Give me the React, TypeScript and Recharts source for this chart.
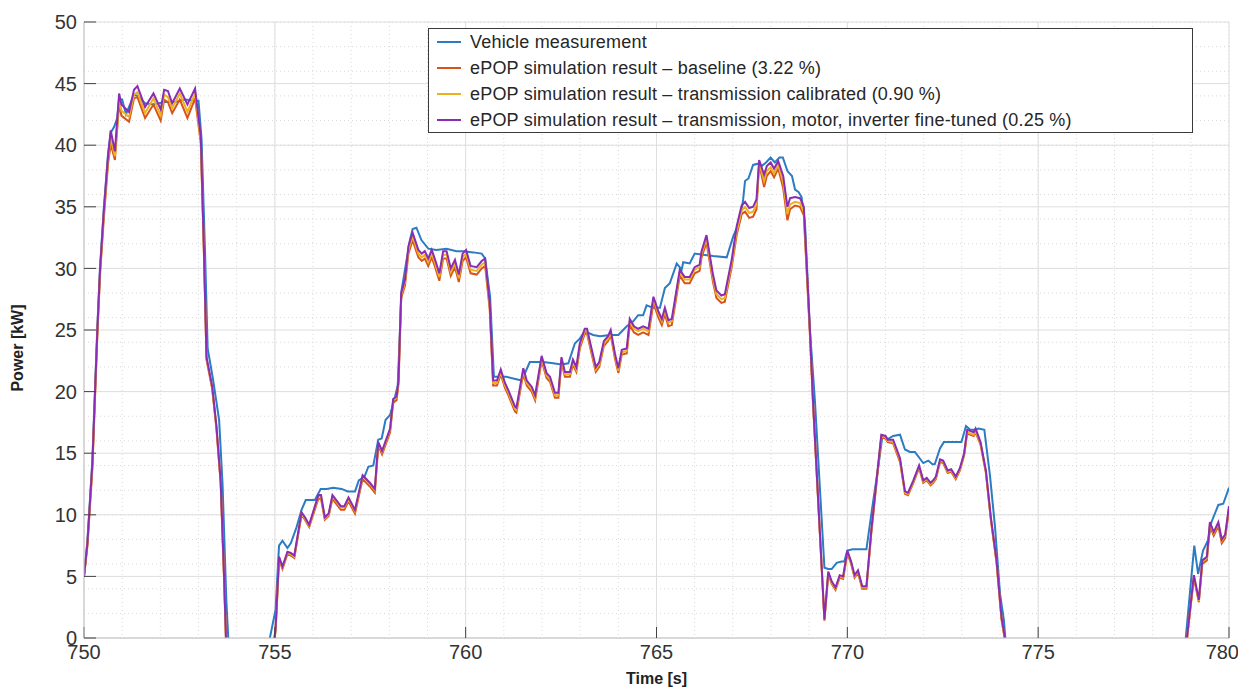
import React from 'react'
import { CartesianGrid, Legend, Line, LineChart, XAxis, YAxis } from 'recharts'

// measurement (own time base)
const measTime = [
  750.0, 750.09, 750.22, 750.35, 750.42, 750.52, 750.63, 750.7, 750.79, 750.87,
  750.92, 751.0, 751.1, 751.31, 751.4, 751.6, 751.82, 752.1, 752.4, 752.65,
  752.9, 753.0, 753.08, 753.17, 753.24, 753.38, 753.54, 753.63, 753.73, 753.78,
  753.85, 754.5, 754.8, 754.87, 755.02, 755.11, 755.2, 755.33, 755.42, 755.57,
  755.7, 755.81, 756.05, 756.2, 756.36, 756.53, 756.75, 756.91, 757.1, 757.2,
  757.35, 757.45, 757.58, 757.71, 757.8, 757.9, 758.02, 758.15, 758.22, 758.32,
  758.41, 758.54, 758.61, 758.71, 758.84, 759.02, 759.23, 759.5, 759.76, 759.94,
  760.2, 760.42, 760.51, 760.64, 760.74, 760.9, 761.07, 761.33, 761.47, 761.68,
  761.81, 762.03, 762.29, 762.51, 762.69, 762.86, 762.99, 763.12, 763.34, 763.52,
  763.78, 764.0, 764.22, 764.39, 764.52, 764.65, 764.74, 764.91, 765.09, 765.22,
  765.35, 765.53, 765.66, 765.7, 765.87, 766.0, 766.22, 766.48, 766.84, 767.01,
  767.19, 767.27, 767.32, 767.41, 767.53, 767.66, 767.75, 767.87, 767.99, 768.1,
  768.22, 768.31, 768.43, 768.55, 768.63, 768.72, 768.8, 768.89, 769.02, 769.15,
  769.4, 769.5, 769.59, 769.72, 769.85, 769.92, 770.0, 770.14, 770.32, 770.5,
  770.63, 770.81, 770.92, 771.04, 771.2, 771.38, 771.51, 771.64, 771.77, 771.99,
  772.12, 772.23, 772.29, 772.43, 772.53, 772.77, 772.99, 773.11, 773.22, 773.35,
  773.44, 773.59, 773.74, 773.87, 774.0, 774.1, 774.14, 774.25, 778.7, 778.87,
  779.09, 779.19, 779.32, 779.46, 779.54, 779.72, 779.85, 780.0,
]
const vehicle = [
  5.0, 7.9, 14.5, 25.3, 30.1, 34.9, 39.3, 41.0, 41.5, 42.2,
  43.7, 43.7, 42.5, 44.1, 44.0, 43.4, 43.3, 43.5, 43.5, 43.7,
  43.6, 43.6, 40.5, 31.5, 23.5, 21.0, 17.7, 12.5, 3.0, 0.0,
  -6, -6, -1.2, 0.0, 2.3, 7.5, 7.9, 7.3, 7.7, 9.0,
  10.4, 11.2, 11.2, 12.1, 12.1, 12.2, 12.1, 11.9, 11.9, 12.8,
  13.1, 13.9, 14.0, 16.1, 16.2, 17.7, 18.1, 19.6, 20.5, 28.2,
  29.9, 32.3, 33.2, 33.3, 32.3, 31.6, 31.5, 31.6, 31.4, 31.4,
  31.3, 31.2, 30.8, 27.7, 21.2, 21.2, 21.2, 21.0, 20.9, 22.4,
  22.4, 22.4, 22.3, 22.2, 22.3, 23.9, 24.3, 24.9, 24.6, 24.5,
  24.6, 24.6, 25.3, 25.7, 26.2, 26.2, 27.0, 26.8, 26.8, 28.4,
  28.8, 30.4, 29.9, 30.5, 30.4, 31.2, 31.1, 31.0, 30.9, 32.6,
  33.9, 35.6, 37.1, 37.3, 38.4, 38.5, 38.3, 38.6, 39.0, 38.6,
  39.0, 39.0, 37.9, 37.5, 36.4, 36.2, 35.8, 33.7, 25.0, 19.3,
  5.7, 5.6, 5.6, 6.1, 6.2, 6.2, 7.1, 7.2, 7.2, 7.2,
  10.1, 13.9, 16.4, 16.1, 16.4, 16.5, 15.3, 15.1, 15.1, 14.2,
  14.4, 14.1, 14.1, 15.4, 15.9, 15.9, 15.9, 17.2, 16.9, 16.9,
  17.0, 16.9, 13.1, 9.0, 3.6, 1.5, 0.0, -6, -6, 0.1,
  7.5, 5.2, 7.1, 8.0, 9.4, 10.8, 10.9, 12.2,
]

// simulation runs (shared time base)
const simTime = [
  750.0, 750.09, 750.22, 750.35, 750.42, 750.52, 750.63, 750.7, 750.81, 750.92,
  750.98, 751.18, 751.31, 751.4, 751.6, 751.82, 752.01, 752.1, 752.2, 752.31,
  752.51, 752.71, 752.91, 753.06, 753.14, 753.21, 753.36, 753.47, 753.58, 753.67,
  753.72, 753.8, 754.5, 754.95, 755.02, 755.11, 755.2, 755.33, 755.42, 755.51,
  755.7, 755.79, 755.9, 756.14, 756.21, 756.31, 756.41, 756.51, 756.73, 756.82,
  756.93, 757.1, 757.3, 757.49, 757.62, 757.71, 757.81, 758.02, 758.1, 758.19,
  758.24, 758.31, 758.41, 758.5, 758.61, 758.76, 758.85, 758.93, 759.02, 759.11,
  759.19, 759.31, 759.41, 759.5, 759.61, 759.72, 759.82, 759.92, 760.01, 760.13,
  760.29, 760.42, 760.51, 760.63, 760.72, 760.82, 760.92, 761.03, 761.12, 761.29,
  761.33, 761.51, 761.6, 761.73, 761.82, 761.99, 762.12, 762.21, 762.34, 762.43,
  762.51, 762.6, 762.73, 762.81, 762.9, 762.99, 763.12, 763.18, 763.29, 763.41,
  763.5, 763.62, 763.73, 763.8, 763.91, 764.0, 764.09, 764.22, 764.3, 764.41,
  764.52, 764.65, 764.79, 764.92, 765.05, 765.14, 765.22, 765.31, 765.4, 765.48,
  765.61, 765.74, 765.87, 766.0, 766.13, 766.18, 766.31, 766.48, 766.57, 766.7,
  766.79, 766.97, 767.1, 767.23, 767.32, 767.43, 767.53, 767.62, 767.69, 767.82,
  767.89, 767.99, 768.08, 768.19, 768.32, 768.43, 768.5, 768.63, 768.76, 768.86,
  769.02, 769.1, 769.4, 769.5, 769.59, 769.69, 769.8, 769.89, 770.0, 770.1,
  770.19, 770.28, 770.39, 770.5, 770.63, 770.89, 771.0, 771.06, 771.2, 771.38,
  771.51, 771.59, 771.73, 771.88, 771.99, 772.08, 772.18, 772.25, 772.32, 772.43,
  772.51, 772.63, 772.72, 772.84, 772.95, 773.06, 773.14, 773.31, 773.36, 773.49,
  773.63, 773.76, 773.91, 774.04, 774.13, 774.25, 778.7, 778.89, 778.95, 779.08,
  779.21, 779.3, 779.42, 779.5, 779.6, 779.72, 779.81, 779.9, 780.0,
]
const baseline = [
  5.0, 7.5, 13.8, 24.6, 29.5, 34.1, 38.5, 40.1, 38.8, 43.4,
  42.4, 41.9, 43.8, 43.9, 42.2, 43.3, 42.0, 43.7, 43.5, 42.6,
  43.7, 42.2, 43.8, 40.2, 31.5, 22.6, 20.2, 17.0, 12.6, 4.8,
  -0.2, -6, -6, -1.2, 0.6, 6.4, 5.6, 6.8, 6.7, 6.5,
  10.0, 9.6, 9.0, 11.3, 11.3, 9.6, 9.9, 11.3, 10.4, 10.4,
  11.1, 10.1, 12.9, 12.3, 11.8, 15.6, 14.9, 16.7, 19.1, 19.3,
  20.6, 27.6, 28.6, 31.2, 32.3, 30.9, 30.6, 30.8, 30.2, 30.9,
  30.2, 29.0, 30.8, 30.8, 29.4, 30.1, 28.9, 30.6, 30.9, 29.6,
  29.5, 30.0, 30.2, 26.7, 20.5, 20.5, 21.4, 20.3, 19.7, 18.4,
  18.3, 21.5, 20.5, 20.0, 19.3, 22.5, 21.1, 20.8, 19.5, 19.5,
  22.4, 21.2, 21.2, 22.2, 21.6, 23.5, 24.7, 24.7, 23.2, 21.6,
  22.0, 23.7, 24.1, 24.6, 22.7, 21.5, 23.0, 23.1, 25.4, 24.8,
  24.6, 24.8, 24.6, 27.2, 26.0, 25.4, 26.3, 25.3, 25.4, 26.9,
  29.4, 28.8, 28.8, 29.6, 29.8, 30.9, 32.1, 28.9, 27.6, 27.2,
  27.3, 30.1, 32.7, 34.4, 34.6, 34.1, 34.2, 34.8, 38.5, 36.6,
  37.5, 37.9, 37.4, 38.1, 36.5, 33.9, 34.8, 35.1, 35.0, 34.3,
  24.6, 19.1, 1.4, 5.2, 4.4, 3.9, 4.9, 4.8, 6.9, 6.0,
  4.9, 5.3, 4.0, 4.0, 8.6, 16.3, 16.2, 15.9, 15.8, 14.3,
  11.7, 11.6, 12.6, 13.8, 12.6, 12.8, 12.4, 12.6, 12.9, 14.3,
  14.2, 13.4, 13.5, 12.9, 13.6, 14.8, 16.6, 16.4, 16.7, 15.7,
  13.4, 9.6, 6.1, 1.5, -0.2, -6, -6, -0.4, 1.3, 4.9,
  2.9, 6.0, 6.3, 9.1, 8.3, 9.1, 7.7, 8.1, 10.4,
]
const transCal = [
  5.0, 7.6, 14.0, 24.8, 29.7, 34.4, 38.8, 40.6, 39.1, 43.8,
  42.8, 42.3, 44.1, 44.3, 42.6, 43.8, 42.4, 44.1, 43.9, 43.0,
  44.2, 42.7, 44.2, 40.4, 31.6, 22.7, 20.3, 17.1, 12.7, 4.9,
  -0.1, -6, -6, -1.1, 0.7, 6.5, 5.7, 6.9, 6.8, 6.6,
  10.1, 9.7, 9.1, 11.5, 11.5, 9.7, 10.0, 11.5, 10.6, 10.6,
  11.3, 10.3, 13.1, 12.5, 12.0, 15.8, 15.1, 16.9, 19.3, 19.5,
  20.8, 27.8, 28.9, 31.5, 32.6, 31.2, 30.9, 31.1, 30.5, 31.2,
  30.5, 29.3, 31.1, 31.1, 29.7, 30.4, 29.2, 30.9, 31.2, 29.9,
  29.8, 30.3, 30.5, 26.9, 20.7, 20.7, 21.6, 20.5, 19.9, 18.6,
  18.5, 21.7, 20.7, 20.2, 19.5, 22.7, 21.3, 21.0, 19.7, 19.7,
  22.6, 21.4, 21.4, 22.4, 21.8, 23.7, 24.9, 24.9, 23.4, 21.8,
  22.2, 23.9, 24.3, 24.8, 22.9, 21.7, 23.2, 23.3, 25.7, 25.1,
  24.9, 25.1, 24.9, 27.5, 26.3, 25.7, 26.6, 25.6, 25.7, 27.2,
  29.7, 29.1, 29.1, 29.9, 30.1, 31.2, 32.4, 29.2, 27.9, 27.5,
  27.6, 30.4, 33.0, 34.7, 35.0, 34.5, 34.6, 35.2, 38.6, 37.1,
  37.9, 38.2, 37.7, 38.4, 37.0, 34.4, 35.2, 35.4, 35.3, 34.6,
  24.8, 19.2, 1.5, 5.3, 4.5, 4.0, 5.0, 4.9, 7.0, 6.1,
  5.0, 5.4, 4.1, 4.1, 8.7, 16.4, 16.3, 16.0, 15.9, 14.5,
  11.8, 11.7, 12.7, 13.9, 12.7, 12.9, 12.5, 12.7, 13.0, 14.4,
  14.3, 13.5, 13.6, 13.0, 13.7, 14.9, 16.7, 16.5, 16.8, 15.8,
  13.5, 9.7, 6.2, 1.6, -0.1, -6, -6, -0.3, 1.4, 5.0,
  3.0, 6.2, 6.5, 9.3, 8.5, 9.3, 7.9, 8.3, 10.6,
]
const fineTuned = [
  5.0, 7.7, 14.2, 25.0, 29.9, 34.7, 39.1, 41.2, 39.5, 44.2,
  43.3, 42.7, 44.5, 44.8, 43.1, 44.2, 42.9, 44.5, 44.4, 43.4,
  44.6, 43.3, 44.6, 40.7, 31.8, 22.8, 20.4, 17.2, 12.8, 5.0,
  0.0, -6, -6, -1.0, 0.8, 6.6, 5.8, 7.0, 6.9, 6.7,
  10.2, 9.8, 9.2, 11.6, 11.6, 9.8, 10.1, 11.6, 10.7, 10.7,
  11.4, 10.4, 13.2, 12.6, 12.1, 15.9, 15.2, 17.0, 19.4, 19.6,
  20.9, 28.0, 29.1, 31.8, 32.9, 31.5, 31.2, 31.4, 30.8, 31.5,
  30.8, 29.6, 31.4, 31.4, 30.0, 30.7, 29.5, 31.2, 31.5, 30.2,
  30.1, 30.6, 30.8, 27.2, 20.9, 20.9, 21.8, 20.7, 20.1, 18.8,
  18.7, 21.9, 20.9, 20.4, 19.7, 22.9, 21.5, 21.2, 19.9, 19.9,
  22.8, 21.6, 21.6, 22.6, 22.0, 23.9, 25.1, 25.1, 23.6, 22.0,
  22.4, 24.1, 24.5, 25.0, 23.1, 21.9, 23.4, 23.5, 25.9, 25.3,
  25.1, 25.3, 25.1, 27.7, 26.5, 25.9, 26.8, 25.8, 25.9, 27.4,
  29.9, 29.3, 29.3, 30.1, 30.3, 31.4, 32.7, 29.5, 28.2, 27.8,
  27.9, 30.7, 33.4, 35.1, 35.4, 34.9, 35.0, 35.6, 38.8, 37.6,
  38.3, 38.6, 38.1, 38.7, 37.5, 35.0, 35.7, 35.8, 35.7, 35.0,
  25.0, 19.3, 1.5, 5.4, 4.6, 4.1, 5.1, 5.0, 7.1, 6.2,
  5.1, 5.5, 4.2, 4.2, 8.8, 16.5, 16.4, 16.1, 16.1, 14.6,
  11.9, 11.8, 12.8, 14.0, 12.8, 13.0, 12.6, 12.8, 13.1, 14.5,
  14.4, 13.6, 13.7, 13.1, 13.8, 15.0, 16.9, 16.7, 17.0, 15.9,
  13.6, 9.8, 6.3, 1.7, 0.0, -6, -6, -0.2, 1.5, 5.1,
  3.1, 6.3, 6.6, 9.4, 8.6, 9.4, 8.0, 8.4, 10.7,
]

const xTicks = [750, 755, 760, 765, 770, 775, 780]
const yTicks = [0, 5, 10, 15, 20, 25, 30, 35, 40, 45, 50]
const xMinor = Array.from({ length: 31 }, (_, i) => 750 + i)
const yMinor = Array.from({ length: 51 }, (_, i) => i)

const series = [
  { key: 'vehicle', name: 'Vehicle measurement', color: '#2b7cc2' },
  { key: 'baseline', name: 'ePOP simulation result \u2013 baseline (3.22 %)', color: '#d95319' },
  { key: 'transCal', name: 'ePOP simulation result \u2013 transmission calibrated (0.90 %)', color: '#edb120' },
  { key: 'fineTuned', name: 'ePOP simulation result \u2013 transmission, motor, inverter fine-tuned (0.25 %)', color: '#8a2db4' },
]

const font = '"Liberation Sans", Arial, sans-serif'

// bottom tick label; the last one is pulled inside the figure like the original
function TimeTick(props: any) {
  const { x, y, payload } = props
  const last = payload.value === xTicks[xTicks.length - 1]
  return (
    <text
      x={last ? x + 10 : x}
      y={y}
      dy="0.71em"
      textAnchor={last ? 'end' : 'middle'}
      fontSize={20}
      fill="#333"
      fontFamily={font}
    >
      {payload.value}
    </text>
  )
}

function LegendBox() {
  return (
    <div
      style={{
        width: 763,
        height: 103,
        border: '1px solid #3a3a3a',
        background: '#fff',
        fontFamily: font,
        fontSize: 18,
        letterSpacing: 0.2,
        color: '#262626',
        boxSizing: 'content-box',
      }}
    >
      {series.map((s) => (
        <div key={s.key} style={{ height: 26, display: 'flex', alignItems: 'center' }}>
          <svg width={41} height={26}>
            <line x1={8} x2={32} y1={13} y2={13} stroke={s.color} strokeWidth={2} />
          </svg>
          <span style={{ whiteSpace: 'nowrap' }}>{s.name}</span>
        </div>
      ))}
    </div>
  )
}

export default function App() {
  const measData = measTime.map((t, i) => ({ t, vehicle: vehicle[i] }))
  const simData = simTime.map((t, i) => ({
    t,
    baseline: baseline[i],
    transCal: transCal[i],
    fineTuned: fineTuned[i],
  }))

  const tickStyle = { fontSize: 20, fill: '#333', fontFamily: font }

  return (
    <div style={{ position: 'relative', width: 1238, height: 683 }}>
      <LineChart width={1238} height={683} margin={{ top: 14, right: 17, bottom: 23, left: 16 }}>
        <CartesianGrid verticalValues={xMinor} horizontalValues={yMinor} stroke="#d9d9d9" strokeDasharray="1 3" />
        <CartesianGrid verticalValues={xTicks} horizontalValues={yTicks} stroke="#dedede" />
        <XAxis
          type="number"
          dataKey="t"
          domain={[750, 780]}
          ticks={xTicks}
          allowDataOverflow
          height={30}
          stroke="#c4c4c4"
          tickLine={{ stroke: '#444' }}
          tickSize={-11}
          tickMargin={18}
          tick={<TimeTick />}
          label={{ value: 'Time [s]', position: 'bottom', offset: 5, style: { fontFamily: font, fontWeight: 700, fontSize: 16, fill: '#222' } }}
        />
        <XAxis
          xAxisId="top"
          orientation="top"
          type="number"
          dataKey="t"
          domain={[750, 780]}
          ticks={xTicks}
          height={0}
          stroke="#c4c4c4"
          tickLine={{ stroke: '#444' }}
          tickSize={-11}
          tickFormatter={() => ''}
        />
        <YAxis
          type="number"
          domain={[0, 50]}
          ticks={yTicks}
          allowDataOverflow
          width={60}
          stroke="#c4c4c4"
          tickLine={{ stroke: '#444' }}
          tickSize={-12}
          tickMargin={19}
          tick={tickStyle}
        />
        <YAxis
          yAxisId="right"
          orientation="right"
          type="number"
          domain={[0, 50]}
          ticks={yTicks}
          width={0}
          stroke="#c4c4c4"
          tickLine={{ stroke: '#444' }}
          tickSize={-12}
          tickFormatter={() => ''}
        />
        <Legend
          layout="vertical"
          align="center"
          verticalAlign="middle"
          wrapperStyle={{ top: 20, left: 420, width: 765 }}
          content={() => <LegendBox />}
        />
        <Line data={measData} dataKey="vehicle" name={series[0].name} stroke={series[0].color} strokeWidth={2} dot={false} isAnimationActive={false} />
        <Line data={simData} dataKey="baseline" name={series[1].name} stroke={series[1].color} strokeWidth={2} dot={false} isAnimationActive={false} />
        <Line data={simData} dataKey="transCal" name={series[2].name} stroke={series[2].color} strokeWidth={2} dot={false} isAnimationActive={false} />
        <Line data={simData} dataKey="fineTuned" name={series[3].name} stroke={series[3].color} strokeWidth={2} dot={false} isAnimationActive={false} />
      </LineChart>
      <div
        style={{
          position: 'absolute',
          left: 10,
          top: 340,
          transform: 'translate(-50%, -50%) rotate(-90deg)',
          fontFamily: font,
          fontWeight: 700,
          fontSize: 16,
          color: '#222',
          whiteSpace: 'nowrap',
        }}
      >
        Power [kW]
      </div>
    </div>
  )
}
